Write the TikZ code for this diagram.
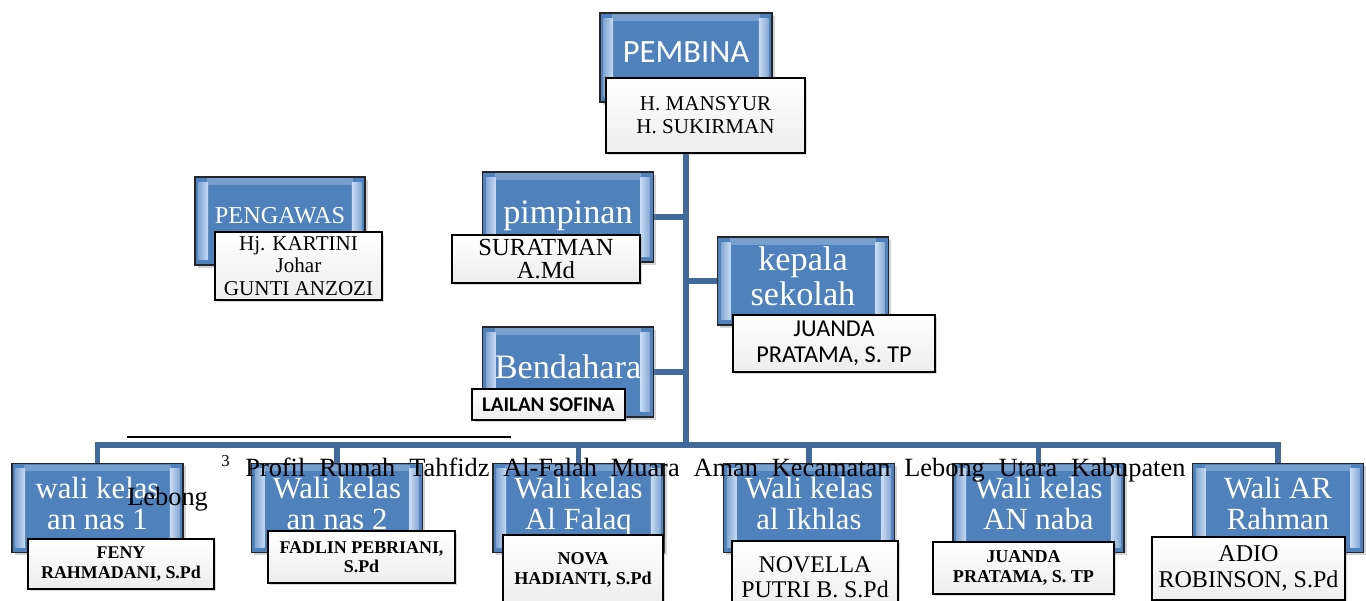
\documentclass[tikz,border=0pt]{standalone}
\usepackage{fontspec}
\setmainfont{Liberation Serif}
\newfontfamily\calib{Carlito}
\usetikzlibrary{positioning,shadows,backgrounds}
\definecolor{orgBlue}{RGB}{79,129,189}
\definecolor{orgLight}{RGB}{200,220,245}
\definecolor{orgLink}{RGB}{65,105,155}
\newcommand{\fs}[2]{\fontsize{#1}{#2}\selectfont}

\begin{document}
\begin{tikzpicture}[
      role/.style={draw=black!85,line width=0.8pt,fill=orgBlue,text=white,align=center,
                   minimum width=3.42cm,minimum height=1.78cm,inner sep=1pt,text depth=6pt,
                   drop shadow={shadow xshift=1.5pt,shadow yshift=-1.5pt,opacity=0.35},
                   path picture={
                     \shade[top color=orgBlue!75!white,bottom color=orgBlue]
                       ([xshift=7pt,yshift=-1pt]path picture bounding box.north west) rectangle
                       ([xshift=-7pt,yshift=-4pt]path picture bounding box.north east);
                     \shade[left color=orgBlue!70!white,right color=orgLight]
                       ([xshift=2pt,yshift=-3pt]path picture bounding box.north west) rectangle
                       ([xshift=7.5pt,yshift=3pt]path picture bounding box.south west);
                     \shade[left color=orgLight,right color=orgBlue!70!white]
                       ([xshift=-7.5pt,yshift=-3pt]path picture bounding box.north east) rectangle
                       ([xshift=-2pt,yshift=3pt]path picture bounding box.south east);},
                   font=\fs{19.5}{20}},
      low/.style={role,text depth=5pt,font=\fs{17.5}{17.6}},
      person/.style={draw=black,line width=1pt,top color=white,bottom color=black!7,
                     text=black,align=center,inner sep=1pt,
                     drop shadow={shadow xshift=1.2pt,shadow yshift=-1.2pt,opacity=0.3}},
      link/.style={draw=orgLink,line width=3.4pt}]
    \useasboundingbox (0,0) rectangle (27.32,12);
    % jabatan
    \node[role,minimum width=3.44cm,font={\calib\fs{18.5}{20}}] (pembina) at (13.72,10.85) {PEMBINA};
    \node[role,minimum width=3.4cm,minimum height=1.76cm,font=\fs{13.8}{15}] (pengawas) at (5.6,7.58) {PENGAWAS};
    \node[role,minimum height=1.8cm] (pimpinan) at (11.36,7.66) {pimpinan};
    \node[role,minimum height=1.76cm] (kepsek) at (16.06,6.38) {kepala\\ sekolah};
    \node[role,minimum height=1.8cm] (bendahara) at (11.36,4.56) {Bendahara};
    \node[low] (annas1) at (1.95,1.84) {wali kelas\\ an nas 1};
    \node[low] (annas2) at (6.74,1.84) {Wali kelas\\ an nas 2};
    \node[low] (alfalaq) at (11.57,1.84) {Wali kelas\\ Al Falaq};
    \node[low] (alikhlas) at (16.18,1.84) {Wali kelas\\ al Ikhlas};
    \node[low] (annaba) at (20.77,1.84) {Wali kelas\\ AN naba};
    \node[low] (arrahman) at (25.56,1.84) {Wali AR\\ Rahman};
    \coordinate (hub) at (13.72,3.1);
    % garis
    \begin{scope}[on background layer]
      \draw[link] (pembina.south) -- (hub);
      \draw[link] (pimpinan.east) -- (pimpinan.east -| hub);
      \draw[link] (kepsek.west) -- (kepsek.west -| hub);
      \draw[link] (bendahara.east) -- (bendahara.east -| hub);
      \draw[link] (annas1.north) |- (hub) -| (arrahman.north);
      \foreach \w in {annas2,alfalaq,alikhlas,annaba}
        \draw[link] (\w.north) -- (\w |- hub);
    \end{scope}
    % nama
    \node[person,minimum width=3.98cm,minimum height=1.5cm,font=\fs{12}{13}] (pembinaNm) at (14.11,9.69) {H. MANSYUR\\ H. SUKIRMAN};
    \node[person,minimum width=3.34cm,minimum height=1.36cm,font=\fs{12}{12.8}] (pengawasNm) at (5.97,6.68) {Hj. KARTINI\\ Johar\\ GUNTI ANZOZI};
    \node[person,minimum width=3.76cm,minimum height=0.96cm,font=\fs{14}{13.6}] (pimpinanNm) at (10.92,6.82) {SURATMAN\\ A.Md};
    \node[person,minimum width=4.04cm,minimum height=1.14cm,font={\calib\fs{13.8}{14.7}}] (kepsekNm) at (16.68,5.13) {JUANDA\\ PRATAMA, S. TP};
    \node[person,minimum width=3.06cm,minimum height=0.62cm,font={\calib\bfseries\fs{11.9}{13}}] (bendaharaNm) at (10.97,3.91) {LAILAN SOFINA};
    \node[person,minimum width=3.72cm,minimum height=1cm,font={\bfseries\fs{10.2}{11}}] (annas1Nm) at (2.42,0.72) {FENY\\ RAHMADANI, S.Pd};
    \node[person,minimum width=3.74cm,minimum height=1.04cm,font={\bfseries\fs{10.2}{11}}] (annas2Nm) at (7.23,0.86) {FADLIN PEBRIANI,\\ S.Pd};
    \node[person,minimum width=3.2cm,minimum height=1.4cm,font={\bfseries\fs{10.3}{11}}] (alfalaqNm) at (11.66,0.6) {NOVA\\ HADIANTI, S.Pd};
    \node[person,minimum width=3.32cm,minimum height=1.44cm,font=\fs{13.6}{14}] (alikhlasNm) at (16.3,0.46) {NOVELLA\\ PUTRI B. S.Pd};
    \node[person,minimum width=3.62cm,minimum height=1.04cm,font={\bfseries\fs{10.3}{11}}] (annabaNm) at (20.47,0.64) {JUANDA\\ PRATAMA, S. TP};
    \node[person,minimum width=3.86cm,minimum height=1.26cm,font=\fs{13.7}{14.7}] (arrahmanNm) at (24.97,0.63) {ADIO\\ ROBINSON, S.Pd};
    % catatan kaki
    \draw[line width=1.1pt] (2.54,3.26) -- (10.22,3.26);
    \node[anchor=base west,inner sep=0pt,font=\fs{9.5}{10}] (fnmark) at (4.42,2.68) {3};
    \node[anchor=base west,inner sep=0pt,font=\fs{15}{17}] (fntext) at (4.9,2.48)
      {\makebox[18.8cm][s]{Profil Rumah Tahfidz Al-Falah Muara Aman Kecamatan Lebong Utara Kabupaten}};
    \node[anchor=base west,inner sep=0pt,font=\fs{15}{17}] (fnrest) at (2.54,1.9) {Lebong};
  \end{tikzpicture}
\end{document}
